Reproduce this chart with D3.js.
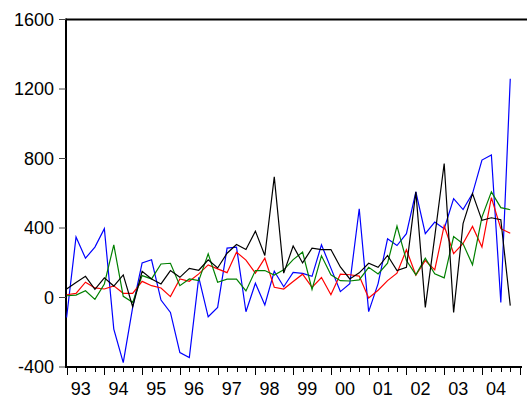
<!DOCTYPE html>
<html>
<head>
<meta charset="utf-8">
<script src="https://cdn.jsdelivr.net/npm/d3@7"></script>
<style>
  body { margin: 0; background: #fff; }
  svg text { font-family: "Liberation Sans", Arial, sans-serif; }
</style>
</head>
<body>
<div id="chart"></div>
<script>
// quarterly data 1993Q1 - 2004Q4
var yearLabels = ["93", "94", "95", "96", "97", "98", "99", "00", "01", "02", "03", "04"];
var yTicks = [-400, 0, 400, 800, 1200, 1600];

var blueSeries = [-115, 348, 226, 290, 396, -182, -375, -57, 199, 217, -15, -86,
  -317, -346, 116, -111, -57, 284, 290, -82, 82, -43, 151, 62,
  145, 139, 122, 303, 169, 34, 80, 511, -81, 80, 338, 299,
  367, 608, 367, 434, 396, 569, 506, 598, 791, 820, -28, 1259];
var redSeries = [16, 24, 88, 55, 49, 67, 24, 24, 93, 68, 55, 5,
  107, 93, 136, 188, 165, 143, 261, 215, 140, 226, 59, 49,
  92, 134, 58, 115, 16, 134, 131, 123, -3, 42, 97, 140,
  275, 128, 213, 159, 413, 253, 311, 409, 290, 575, 396, 370];
var greenSeries = [10, 14, 39, -11, 78, 303, 7, -28, 126, 107, 193, 197,
  68, 107, 97, 251, 88, 106, 106, 38, 155, 155, 129, 159,
  218, 261, 46, 240, 131, 97, 95, 101, 174, 136, 197, 411,
  213, 130, 226, 136, 113, 351, 309, 188, 463, 608, 517, 505];
var blackSeries = [49, 87, 122, 47, 113, 66, 130, -53, 151, 107, 78, 155,
  116, 168, 157, 217, 170, 255, 305, 276, 382, 242, 694, 140,
  296, 199, 284, 276, 276, 176, 107, 142, 197, 174, 242, 155,
  174, 608, -57, 350, 771, -86, 425, 598, 444, 459, 448, -47];

var width = 527, height = 400;

var svg = d3.select("#chart")
    .append("svg")
    .attr("width", width)
    .attr("height", height);

// x: quarter index, y: value
var x = d3.scaleLinear().domain([0, 48]).range([66.6, 519.7]);
var y = d3.scaleLinear().domain([-400, 1600]).range([367, 19.5]);

// top border
svg.append("line")
    .attr("x1", 66).attr("x2", 527)
    .attr("y1", y(1600)).attr("y2", y(1600))
    .attr("stroke", "#000").attr("stroke-width", 2);

// y axis
var yAxis = svg.append("g").attr("transform", "translate(66,0)");
yAxis.append("line")
    .attr("x1", 0).attr("x2", 0)
    .attr("y1", y(1600) - 1).attr("y2", y(-400) + 1)
    .attr("stroke", "#000").attr("stroke-width", 2);
yAxis.selectAll(".ytick")
    .data(yTicks)
    .enter()
    .append("line")
    .attr("x1", -7).attr("x2", 0)
    .attr("y1", function(d) { return y(d); })
    .attr("y2", function(d) { return y(d); })
    .attr("stroke", "#444").attr("stroke-width", 1);
yAxis.selectAll(".ylabel")
    .data(yTicks)
    .enter()
    .append("text")
    .attr("x", -12)
    .attr("y", function(d) { return y(d); })
    .attr("dy", "0.36em")
    .attr("text-anchor", "end")
    .attr("font-size", "18px")
    .attr("fill", "#000")
    .text(function(d) { return d; });

// x axis
var xAxis = svg.append("g").attr("transform", "translate(0," + y(-400) + ")");
xAxis.append("line")
    .attr("x1", 65).attr("x2", 522)
    .attr("y1", 0).attr("y2", 0)
    .attr("stroke", "#000").attr("stroke-width", 2);
xAxis.selectAll(".xtick")
    .data(d3.range(0, 49))
    .enter()
    .append("line")
    .attr("x1", function(d) { return Math.round(x(d)) + 0.5; })
    .attr("x2", function(d) { return Math.round(x(d)) + 0.5; })
    .attr("y1", 0)
    .attr("y2", function(d) { return d % 4 == 0 ? 8 : 5; })
    .attr("stroke", "#000").attr("stroke-width", 1);
xAxis.selectAll(".xlabel")
    .data(yearLabels)
    .enter()
    .append("text")
    .attr("x", function(d, i) { return x(i * 4 + 1.5); })
    .attr("y", 28)
    .attr("text-anchor", "middle")
    .attr("font-size", "18px")
    .attr("fill", "#000")
    .text(function(d) { return d; });

// lines
var line = d3.line()
    .x(function(d, i) { return x(i); })
    .y(function(d) { return y(d); });

var series = [
  { values: blueSeries, color: "#0000ff" },
  { values: redSeries, color: "#ff0000" },
  { values: greenSeries, color: "#008000" },
  { values: blackSeries, color: "#000000" }
];

svg.selectAll(".series")
    .data(series)
    .enter()
    .append("path")
    .attr("class", "series")
    .attr("d", function(d) { return line(d.values); })
    .attr("fill", "none")
    .attr("stroke", function(d) { return d.color; })
    .attr("stroke-width", 1.2);
</script>
</body>
</html>
